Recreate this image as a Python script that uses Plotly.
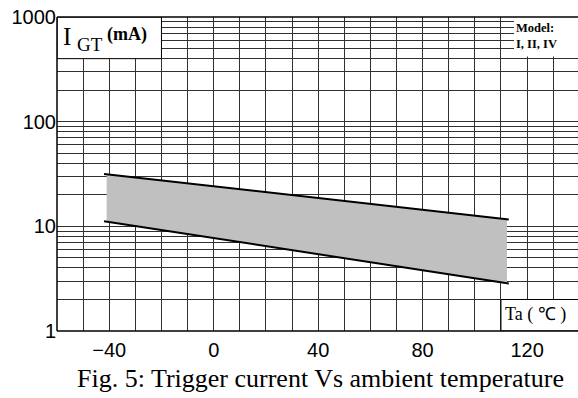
import plotly.graph_objects as go
import math

# Data
temps = [-42.0, 113.0]          # Ta (°C) end points of the band edges
upper = [31.6, 11.65]           # IGT max (mA)
lower = [11.2, 2.84]            # IGT min (mA)
fill_temps = [-41.0, 112.3]
x_ticks = [-40, 0, 40, 80, 120]
x_tick_text = ["−40", "0", "40", "80", "120"]
y_ticks = [1, 10, 100, 1000]
y_tick_text = ["1", "10", "100", "1000"]

def interp_log(t, ts, vs):
    f = (t - ts[0]) / (ts[1] - ts[0])
    return 10 ** (math.log10(vs[0]) + f * (math.log10(vs[1]) - math.log10(vs[0])))

fx0, fx1 = fill_temps
poly_x = [fx0, fx1, fx1, fx0, fx0]
poly_y = [interp_log(fx0, temps, upper), interp_log(fx1, temps, upper),
          interp_log(fx1, temps, lower), interp_log(fx0, temps, lower),
          interp_log(fx0, temps, upper)]

fig = go.Figure()
fig.add_trace(go.Scatter(x=poly_x, y=poly_y, fill="toself", fillcolor="#c0c0c0",
                         line=dict(width=0), mode="lines", hoverinfo="skip"))
fig.add_trace(go.Scatter(x=temps, y=upper, mode="lines", line=dict(color="black", width=2)))
fig.add_trace(go.Scatter(x=temps, y=lower, mode="lines", line=dict(color="black", width=2)))

minor_y = [m * 10 ** d for d in range(3) for m in range(2, 10)]
grid_col = "#303030"
XMIN, XMAX = -60, 139.5

fig.update_xaxes(range=[XMIN, XMAX], tickmode="array", tickvals=x_ticks,
                 ticktext=x_tick_text,
                 showgrid=True, gridcolor=grid_col, gridwidth=1,
                 minor=dict(tick0=-60, dtick=10, showgrid=True, gridcolor=grid_col, gridwidth=1),
                 zeroline=False, showline=False, ticks="", ticklabelstandoff=5,
                 tickfont=dict(family="Liberation Sans", size=20, color="black"))
fig.update_yaxes(type="log", range=[0, 3], tickmode="array", tickvals=y_ticks,
                 ticktext=y_tick_text,
                 showgrid=True, gridcolor=grid_col, gridwidth=1,
                 minor=dict(tickmode="array", tickvals=minor_y, showgrid=True,
                            gridcolor=grid_col, gridwidth=1),
                 zeroline=False, showline=False, ticks="",
                 tickfont=dict(family="Liberation Sans", size=20, color="black"))

shapes = [
    # white label boxes
    dict(type="rect", xref="x", yref="y", x0=-60, x1=-20, y0=400, y1=1000,
         fillcolor="white", line=dict(color="black", width=1), layer="above"),
    dict(type="rect", xref="x", yref="y", x0=115, x1=XMAX + 1, y0=420, y1=1000,
         fillcolor="white", line=dict(width=0), layer="above"),
    dict(type="rect", xref="x", yref="y", x0=110, x1=XMAX + 1, y0=1, y1=2,
         fillcolor="white", line=dict(color="black", width=1), layer="above"),
    # frame
    dict(type="line", xref="paper", yref="paper", x0=0, x1=0, y0=0, y1=1,
         line=dict(color="black", width=1.5), layer="above"),
    dict(type="line", xref="paper", yref="paper", x0=0, x1=1, y0=0, y1=0,
         line=dict(color="black", width=1.5), layer="above"),
    dict(type="line", xref="paper", yref="paper", x0=0, x1=1, y0=1, y1=1,
         line=dict(color="black", width=1.5), layer="above"),
]

serif = "Liberation Serif"
annotations = [
    dict(x=-58.6, y=2.814, xref="x", yref="y", text="I", showarrow=False, xanchor="left",
         yanchor="middle", font=dict(family=serif, size=25, color="black")),
    dict(x=-53.0, y=2.738, xref="x", yref="y", text="GT", showarrow=False, xanchor="left",
         yanchor="middle", font=dict(family=serif, size=19, color="black")),
    dict(x=-41.8, y=2.836, xref="x", yref="y", text="<b>(mA)</b>", showarrow=False, xanchor="left",
         yanchor="middle", font=dict(family=serif, size=18, color="black")),
    dict(x=114.8, y=2.82, xref="x", yref="y", text="<b>Model:</b><br><b>I, II, IV</b>",
         showarrow=False, xanchor="left", yanchor="middle", align="left",
         font=dict(family=serif, size=12.5, color="black")),
    dict(x=110.9, y=0.155, xref="x", yref="y", text="Ta ( ℃ )", showarrow=False, xanchor="left",
         yanchor="middle", font=dict(family=serif, size=18, color="black")),
    dict(x=0.5054, y=-0.151, xref="paper", yref="paper",
         text="Fig. 5: Trigger current Vs ambient temperature", showarrow=False,
         xanchor="center", yanchor="middle", font=dict(family=serif, size=26, color="black")),
]

fig.update_layout(width=578, height=398, margin=dict(l=57, r=0, t=17, b=67),
                  paper_bgcolor="white", plot_bgcolor="white", showlegend=False,
                  shapes=shapes, annotations=annotations)

fig.write_html("out.html")
